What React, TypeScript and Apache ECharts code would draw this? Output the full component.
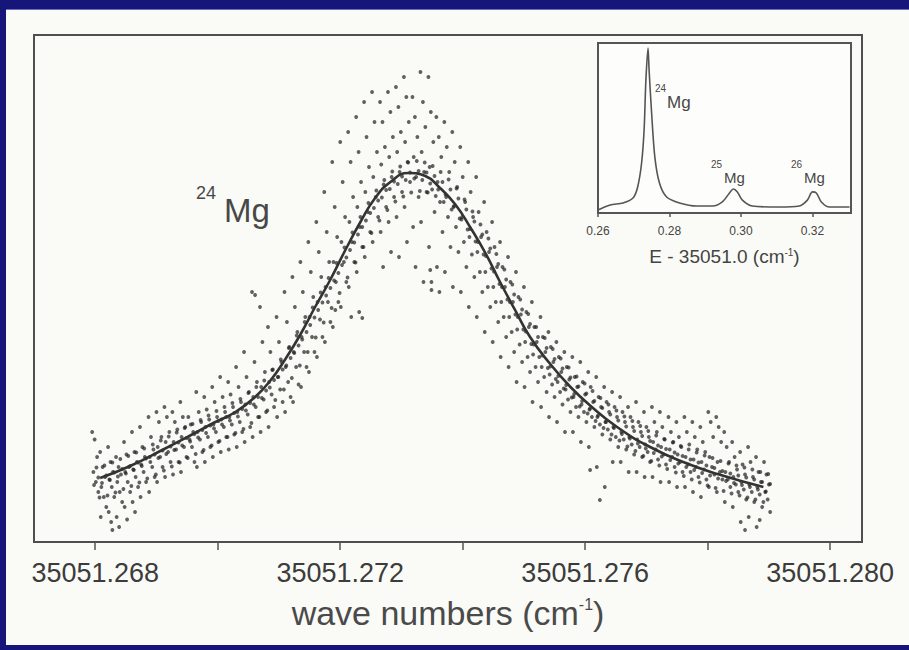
import React, { useEffect, useRef } from "react";
import * as echarts from "echarts";

// x values: wave number minus 35051 cm^-1, in units of 1e-3 cm^-1
const mainTickValues = [268, 270, 272, 274, 276, 278, 280];
const mainLabelValues = [268, 272, 276, 280];

// fitted line profile (arbitrary intensity units)
const fitX = [268.08, 268.57, 269.11, 269.55, 269.93, 270.29, 270.61, 270.86, 271.1, 271.35, 271.59, 271.84, 272.08, 272.33, 272.57, 272.82, 273.11, 273.39, 273.63, 273.88, 274.12, 274.37, 274.61, 274.86, 275.1, 275.43, 275.76, 276.08, 276.52, 277.06, 277.6, 278.16, 278.91];
const fitY = [12.8, 15.2, 18.5, 21.3, 23.8, 26, 29, 32.3, 36.5, 41.5, 47, 52.5, 58.3, 64, 68.8, 72, 73.8, 73.2, 70.8, 67.5, 63, 57.8, 52, 46.3, 41, 35.6, 31, 27.3, 23, 19, 16, 13.6, 11];

// measured points [x, intensity]: the wide cloud
const dots: [number, number][] = [
  [267.95,22],[267.99,20.5],[268.03,17],[267.97,14],[268.01,12],[268.05,10],
  [268.08,18],[268.12,15],[268.16,13],[268.10,11],[268.14,9],[268.18,7],[268.09,5],
  [268.21,19],[268.25,16],[268.29,14],[268.23,12.5],[268.27,11],[268.31,9],[268.22,6],[268.26,4],
  [268.34,17],[268.38,15],[268.42,13.5],[268.36,12],[268.40,10],[268.44,8],[268.35,5],[268.39,3],
  [268.47,20],[268.51,17.5],[268.55,15],[268.49,14],[268.53,12],[268.57,10],[268.48,7],[268.52,4.5],
  [268.60,22],[268.64,18],[268.68,16],[268.62,14.5],[268.66,13],[268.70,11],[268.61,8],[268.65,6],
  [268.73,23],[268.77,19],[268.81,17],[268.75,15.5],[268.79,14],[268.83,12],[268.74,9],
  [268.87,25],[268.91,21],[268.95,18.5],[268.89,17],[268.93,15],[268.97,13],[268.88,10],
  [269.00,26],[269.04,24],[269.08,21],[269.02,19],[269.06,17],[269.10,15],[269.01,12],
  [269.13,27],[269.17,25],[269.21,22],[269.15,20],[269.19,18],[269.23,16],[269.14,13],
  [269.26,26],[269.30,24],[269.34,22.5],[269.28,20],[269.32,18.5],[269.36,16],[269.27,13.5],
  [269.39,28],[269.43,25],[269.47,23],[269.41,21],[269.45,19],[269.49,17],[269.40,14],
  [269.52,25],[269.56,23.5],[269.60,22],[269.54,20.5],[269.58,19],[269.62,16],
  [269.65,30],[269.69,26],[269.73,24],[269.67,22],[269.71,20.5],[269.75,18],[269.66,15],
  [269.78,29],[269.82,26.5],[269.86,24.5],[269.80,23],[269.84,21],[269.88,19],[269.79,16],
  [269.91,31],[269.95,28],[269.99,25],[269.93,23.5],[269.97,22],[270.01,20],[269.92,17],
  [270.04,33],[270.08,29],[270.12,26],[270.06,24.5],[270.10,23],[270.14,21],[270.05,18],
  [270.17,32],[270.21,29.5],[270.25,27],[270.19,25],[270.23,23.5],[270.27,21.5],[270.18,18.5],
  [270.30,35],[270.34,31],[270.38,28],[270.32,26],[270.36,24],[270.40,22],[270.31,19],
  [270.43,38],[270.47,33],[270.51,30],[270.45,27.5],[270.49,25.5],[270.53,23],[270.44,20],
  [270.56,50],[270.60,36],[270.64,32],[270.58,29],[270.62,27],[270.66,25],[270.57,21],
  [270.69,47],[270.73,40],[270.77,34],[270.71,31],[270.75,28.5],[270.79,26],[270.70,22],
  [270.82,43],[270.86,38],[270.90,34.5],[270.84,32],[270.88,29.5],[270.92,27],[270.83,23],
  [270.96,45],[271.00,40],[271.04,36],[270.98,33],[271.02,30.5],[271.06,28],[270.97,25],
  [271.09,50],[271.13,44],[271.17,39],[271.11,35],[271.15,32],[271.19,29],[271.10,26],
  [271.22,53],[271.26,47],[271.30,42],[271.24,38],[271.28,35],[271.32,31.5],[271.23,28],
  [271.35,56],[271.39,50],[271.43,45],[271.37,41],[271.41,38],[271.45,35],[271.36,31],
  [271.48,60],[271.52,54],[271.56,49],[271.50,45],[271.54,41],[271.58,38],[271.49,34],
  [271.61,64],[271.65,58],[271.69,53],[271.63,48],[271.67,44.5],[271.71,41],[271.62,37],
  [271.74,70],[271.78,62],[271.82,56],[271.76,51],[271.80,48],[271.84,44],[271.75,40],
  [271.87,76],[271.91,67],[271.95,61],[271.89,56],[271.93,52],[271.97,48],[271.88,43],
  [272.00,80],[272.04,72],[272.08,65],[272.02,60],[272.06,56],[272.10,52],[272.01,47],
  [272.13,82],[272.17,76],[272.21,69],[272.15,64],[272.19,60],[272.23,56],[272.14,51],[272.18,45],
  [272.26,85],[272.30,78],[272.34,72],[272.28,67],[272.32,63],[272.36,59],[272.27,54],[272.31,46],
  [272.39,88],[272.43,81],[272.47,75],[272.41,70],[272.45,66],[272.49,62],[272.40,57],
  [272.52,90],[272.56,84],[272.60,78],[272.54,73],[272.58,69],[272.62,65],[272.53,60],
  [272.65,88],[272.69,84],[272.73,79],[272.67,75.5],[272.71,71.5],[272.75,67],[272.66,62],[272.70,55],
  [272.78,90],[272.82,86],[272.86,81],[272.80,77],[272.84,73],[272.88,69],[272.79,64],[272.83,58],
  [272.91,91],[272.95,87],[272.99,82],[272.93,78],[272.97,74],[273.01,70],[272.92,65],[272.96,57],
  [273.04,93],[273.08,89],[273.12,84],[273.06,80],[273.10,76],[273.14,72],[273.05,67],[273.09,60],
  [273.18,89],[273.22,85],[273.26,81],[273.20,77],[273.24,73],[273.28,69],[273.19,63],[273.23,55],
  [273.31,94],[273.35,88],[273.39,83],[273.33,78],[273.37,74],[273.41,70],[273.32,64],[273.36,52],
  [273.44,93],[273.48,86],[273.52,80],[273.46,75],[273.50,70.5],[273.54,66],[273.45,59],[273.49,52],
  [273.57,85],[273.61,81],[273.65,77],[273.59,72],[273.63,68],[273.67,62],[273.58,55],[273.62,50],
  [273.70,84],[273.74,79],[273.78,74],[273.72,69.5],[273.76,65],[273.80,59],[273.71,54],
  [273.83,82],[273.87,76],[273.91,71],[273.85,67],[273.89,63],[273.93,58],[273.84,51],
  [273.96,79],[274.00,73],[274.04,68],[273.98,64.5],[274.02,60],[274.06,55],[273.97,50],
  [274.09,76],[274.13,70],[274.17,65],[274.11,61],[274.15,57.5],[274.19,53],[274.10,47],
  [274.22,73],[274.26,66],[274.30,61],[274.24,58],[274.28,54],[274.32,50],[274.23,45],
  [274.35,68],[274.39,62],[274.43,58],[274.37,54],[274.41,51],[274.45,47],[274.36,42],
  [274.48,64],[274.52,59],[274.56,55],[274.50,51],[274.54,48],[274.58,44],[274.49,40],
  [274.61,60],[274.65,55],[274.69,51],[274.63,48],[274.67,45],[274.71,41],[274.62,37],
  [274.74,57],[274.78,52],[274.82,48],[274.76,45],[274.80,42],[274.84,38],[274.75,35],
  [274.87,54],[274.91,49],[274.95,45.5],[274.89,42.5],[274.93,39.5],[274.97,36],[274.88,32],
  [275.00,51],[275.04,46],[275.08,43],[275.02,40],[275.06,37],[275.10,34],[275.01,31],
  [275.13,48],[275.17,43],[275.21,40],[275.15,37.5],[275.19,35],[275.23,32],[275.14,28],
  [275.27,45],[275.31,41],[275.35,38],[275.29,35],[275.33,33],[275.37,30],[275.28,27],
  [275.40,42],[275.44,39],[275.48,36],[275.42,33.5],[275.46,31.5],[275.50,29],[275.41,25],
  [275.53,40],[275.57,37],[275.61,34],[275.55,32],[275.59,30],[275.63,27.5],[275.54,24],
  [275.66,38],[275.70,35],[275.74,32.5],[275.68,30.5],[275.72,28.5],[275.76,26],[275.67,22],
  [275.79,37],[275.83,33],[275.87,31],[275.81,29],[275.85,27],[275.89,25],[275.80,22],
  [275.92,36],[275.96,32],[276.00,29.5],[275.94,27.5],[275.98,26],[276.02,24],[275.93,20],
  [276.05,34],[276.09,31],[276.13,28],[276.07,26.5],[276.11,25],[276.15,23],[276.06,19],
  [276.18,33],[276.22,29],[276.26,27],[276.20,25],[276.24,23.5],[276.28,21.5],[276.19,15],
  [276.31,31],[276.35,28],[276.39,26],[276.33,24],[276.37,22.5],[276.41,20.5],[276.32,11],
  [276.44,30],[276.48,27],[276.52,25],[276.46,23],[276.50,21],[276.54,19],[276.45,16],
  [276.57,29],[276.61,26],[276.65,24],[276.59,22],[276.63,20.5],[276.67,18.5],[276.58,16],
  [276.70,27],[276.74,25],[276.78,23],[276.72,21],[276.76,19.5],[276.80,17.5],[276.71,14],
  [276.83,28],[276.87,24],[276.91,22],[276.85,20.5],[276.89,19],[276.93,17],[276.84,14],
  [276.96,26],[277.00,23],[277.04,21],[276.98,19.5],[277.02,18],[277.06,16],[276.97,13],
  [277.09,27],[277.13,24],[277.17,22],[277.11,20],[277.15,18.5],[277.19,16.5],[277.10,13],
  [277.22,26],[277.26,23],[277.30,20.5],[277.24,19],[277.28,17.5],[277.32,15.5],[277.23,12],
  [277.36,25],[277.40,22],[277.44,20],[277.38,18.5],[277.42,17],[277.46,15],[277.37,12],
  [277.49,24],[277.53,21],[277.57,19],[277.51,17.5],[277.55,16],[277.59,14],[277.50,11],
  [277.62,25],[277.66,22],[277.70,19.5],[277.64,17],[277.68,15.5],[277.72,14],[277.63,11],
  [277.75,24],[277.79,21],[277.83,18.5],[277.77,16.5],[277.81,15],[277.85,13],[277.76,10],
  [277.88,23],[277.92,20],[277.96,18],[277.90,16],[277.94,14.5],[277.98,12.5],[277.89,9],
  [278.01,26],[278.05,24],[278.09,21],[278.03,17],[278.07,15],[278.11,13.5],[278.02,11],
  [278.14,25],[278.18,23],[278.22,20],[278.16,16],[278.20,14],[278.24,12.5],[278.15,10],
  [278.27,22],[278.31,19],[278.35,16],[278.29,14],[278.33,12.5],[278.37,11],[278.28,8],
  [278.40,20],[278.44,17],[278.48,14.5],[278.42,13],[278.46,11.5],[278.50,10],[278.41,7],
  [278.53,18],[278.57,15.5],[278.61,13.5],[278.55,12],[278.59,10.5],[278.63,8.5],[278.54,4],
  [278.66,19],[278.70,16],[278.74,13],[278.68,11.5],[278.72,10],[278.76,8],[278.67,5],
  [278.79,17],[278.83,14],[278.87,12],[278.81,11],[278.85,9.5],[278.89,7],[278.80,3],
  [278.92,16],[278.96,13.5],[279.00,11.5],[278.94,10],[278.98,8.5],[279.02,6],
];

// measured points [x, intensity]: the dense band along the profile, plus stray points
const bandDots: [number, number][] = [
  [268.02,14.9],[267.98,11.4],[268.05,12.9],[268.07,8.9],
  [268.15,15.3],[268.11,11.8],[268.18,13.3],[268.20,9.3],
  [268.28,15.9],[268.24,12.4],[268.31,13.9],[268.33,9.9],
  [268.41,16.6],[268.37,13.1],[268.44,14.6],[268.46,10.6],
  [268.54,17.2],[268.50,13.7],[268.57,15.2],[268.59,11.2],
  [268.67,17.9],[268.63,14.4],[268.70,15.9],[268.72,11.9],
  [268.80,18.7],[268.76,15.2],[268.83,16.7],[268.85,12.7],
  [268.94,19.5],[268.90,16],[268.97,17.5],[268.99,13.5],
  [269.07,20.3],[269.03,16.8],[269.10,18.3],[269.12,14.3],
  [269.20,21.1],[269.16,17.6],[269.23,19.1],[269.25,15.1],
  [269.33,21.9],[269.29,18.4],[269.36,19.9],[269.38,15.9],
  [269.46,22.8],[269.42,19.3],[269.49,20.8],[269.51,16.8],
  [269.59,23.6],[269.55,20.1],[269.62,21.6],[269.64,17.6],
  [269.72,24.4],[269.68,20.9],[269.75,22.4],[269.77,18.4],
  [269.85,25.3],[269.81,21.8],[269.88,23.3],[269.90,19.3],
  [269.98,26.2],[269.94,22.7],[270.01,24.2],[270.03,20.2],
  [270.11,27],[270.07,23.5],[270.14,25],[270.16,21],
  [270.24,27.8],[270.20,24.3],[270.27,25.8],[270.29,21.8],
  [270.37,28.6],[270.33,25.1],[270.40,26.6],[270.42,22.6],
  [270.50,29.8],[270.46,26.3],[270.53,27.8],[270.55,23.8],
  [270.63,31],[270.59,27.5],[270.66,29],[270.68,25],
  [270.76,32.3],[270.72,28.8],[270.79,30.3],[270.81,26.3],
  [270.89,34.4],[270.85,30.9],[270.92,32.4],[270.94,28.4],
  [271.03,36.5],[270.99,33],[271.06,34.5],[271.08,30.5],
  [271.16,38.8],[271.12,35.3],[271.19,36.8],[271.21,32.8],
  [271.29,41.3],[271.25,37.8],[271.32,39.3],[271.34,35.3],
  [271.42,44],[271.38,40.5],[271.45,42],[271.47,38],
  [271.55,46.9],[271.51,43.4],[271.58,44.9],[271.60,40.9],
  [271.68,49.9],[271.64,46.4],[271.71,47.9],[271.73,43.9],
  [271.81,52.8],[271.77,49.3],[271.84,50.8],[271.86,46.8],
  [271.94,55.8],[271.90,52.3],[271.97,53.8],[271.99,49.8],
  [272.07,58.9],[272.03,55.4],[272.10,56.9],[272.12,52.9],
  [272.20,61.9],[272.16,58.4],[272.23,59.9],[272.25,55.9],
  [272.33,65],[272.29,61.5],[272.36,63],[272.38,59],
  [272.46,67.8],[272.42,64.3],[272.49,65.8],[272.51,61.8],
  [272.59,70.3],[272.55,66.8],[272.62,68.3],[272.64,64.3],
  [272.72,72.4],[272.68,68.9],[272.75,70.4],[272.77,66.4],
  [272.85,74.1],[272.81,70.6],[272.88,72.1],[272.90,68.1],
  [272.98,75.1],[272.94,71.6],[273.01,73.1],[273.03,69.1],
  [273.11,75.9],[273.07,72.4],[273.14,73.9],[273.16,69.9],
  [273.25,76.2],[273.21,72.7],[273.28,74.2],[273.30,70.2],
  [273.38,75.9],[273.34,72.4],[273.41,73.9],[273.43,69.9],
  [273.51,75.2],[273.47,71.7],[273.54,73.2],[273.56,69.2],
  [273.64,74],[273.60,70.5],[273.67,72],[273.69,68],
  [273.77,72.5],[273.73,69],[273.80,70.5],[273.82,66.5],
  [273.90,70.7],[273.86,67.2],[273.93,68.7],[273.95,64.7],
  [274.03,68.5],[273.99,65],[274.06,66.5],[274.08,62.5],
  [274.16,66.1],[274.12,62.6],[274.19,64.1],[274.21,60.1],
  [274.29,63.5],[274.25,60],[274.32,61.5],[274.34,57.5],
  [274.42,60.7],[274.38,57.2],[274.45,58.7],[274.47,54.7],
  [274.55,57.6],[274.51,54.1],[274.58,55.6],[274.60,51.6],
  [274.68,54.5],[274.64,51],[274.71,52.5],[274.73,48.5],
  [274.81,51.5],[274.77,48],[274.84,49.5],[274.86,45.5],
  [274.94,48.5],[274.90,45],[274.97,46.5],[274.99,42.5],
  [275.07,45.6],[275.03,42.1],[275.10,43.6],[275.12,39.6],
  [275.20,43],[275.16,39.5],[275.23,41],[275.25,37],
  [275.34,40.8],[275.30,37.3],[275.37,38.8],[275.39,34.8],
  [275.47,38.6],[275.43,35.1],[275.50,36.6],[275.52,32.6],
  [275.60,36.7],[275.56,33.2],[275.63,34.7],[275.65,30.7],
  [275.73,34.9],[275.69,31.4],[275.76,32.9],[275.78,28.9],
  [275.86,33.1],[275.82,29.6],[275.89,31.1],[275.91,27.1],
  [275.99,31.7],[275.95,28.2],[276.02,29.7],[276.04,25.7],
  [276.12,30.2],[276.08,26.7],[276.15,28.2],[276.17,24.2],
  [276.25,28.8],[276.21,25.3],[276.28,26.8],[276.30,22.8],
  [276.38,27.5],[276.34,24],[276.41,25.5],[276.43,21.5],
  [276.51,26.3],[276.47,22.8],[276.54,24.3],[276.56,20.3],
  [276.64,25.1],[276.60,21.6],[276.67,23.1],[276.69,19.1],
  [276.77,24.2],[276.73,20.7],[276.80,22.2],[276.82,18.2],
  [276.90,23.2],[276.86,19.7],[276.93,21.2],[276.95,17.2],
  [277.03,22.2],[276.99,18.7],[277.06,20.2],[277.08,16.2],
  [277.16,21.3],[277.12,17.8],[277.19,19.3],[277.21,15.3],
  [277.29,20.6],[277.25,17.1],[277.32,18.6],[277.34,14.6],
  [277.43,19.9],[277.39,16.4],[277.46,17.9],[277.48,13.9],
  [277.56,19.2],[277.52,15.7],[277.59,17.2],[277.61,13.2],
  [277.69,18.5],[277.65,15],[277.72,16.5],[277.74,12.5],
  [277.82,17.9],[277.78,14.4],[277.85,15.9],[277.87,11.9],
  [277.95,17.3],[277.91,13.8],[277.98,15.3],[278.00,11.3],
  [278.08,16.8],[278.04,13.3],[278.11,14.8],[278.13,10.8],
  [278.21,16.2],[278.17,12.7],[278.24,14.2],[278.26,10.2],
  [278.34,15.7],[278.30,12.2],[278.37,13.7],[278.39,9.7],
  [278.47,15.3],[278.43,11.8],[278.50,13.3],[278.52,9.3],
  [278.60,14.9],[278.56,11.4],[278.63,12.9],[278.65,8.9],
  [278.73,14.5],[278.69,11],[278.76,12.5],[278.78,8.5],
  [278.86,14],[278.82,10.5],[278.89,12],[278.91,8],
  [278.99,13.6],[278.95,10.1],[279.02,11.6],
  [270.61,49.4],[273.47,54.4],[273.49,50.4],[271.92,46.4],[272.36,44.8],[276.24,8.4],[276.08,14.4],[278.61,2.4],[278.85,4.4],[268.28,2.4],
];

// inset: isotope spectrum, E - 35051.0 (cm^-1)
const insetX = [0.26, 0.2634, 0.267, 0.2698, 0.2711, 0.2722, 0.2729, 0.2734, 0.274, 0.2743, 0.275, 0.2759, 0.2772, 0.2792, 0.2828, 0.2876, 0.2921, 0.2948, 0.2968, 0.2979, 0.299, 0.3004, 0.3032, 0.3107, 0.3163, 0.3186, 0.32, 0.3211, 0.3225, 0.3248, 0.3304];
const insetY = [1.8, 4.7, 5.9, 8.8, 15.3, 29.4, 48.8, 78, 97, 84, 59, 33, 17.6, 9.4, 5.9, 4.1, 4.1, 6.5, 11.8, 14.1, 12.4, 7.6, 4.1, 3.5, 4.1, 7.6, 12.4, 11.8, 6.5, 3.5, 3.5];
const insetTickValues = [0.26, 0.28, 0.3, 0.32];

const FONT = "'Liberation Sans', Arial, Helvetica, sans-serif";

export default function App() {
  const ref = useRef<HTMLDivElement>(null);
  useEffect(() => {
    const chart = echarts.init(ref.current!, null, { renderer: "svg" });
    const txt = (text: string, x: number, y: number, size: number) => ({
      type: "text",
      x,
      y,
      z: 10,
      style: { text, fontSize: size, fontFamily: FONT, fill: "#484848", align: "left", verticalAlign: "middle" },
    });
    const dotStyle = { color: "rgba(32,32,32,0.88)" };
    chart.setOption({
      animation: false,
      textStyle: { fontFamily: FONT },
      grid: [
        { left: 34, top: 35, width: 828, height: 507, show: true, borderColor: "#4f4f4f", borderWidth: 2, backgroundColor: "transparent" },
        { left: 598, top: 43, width: 253, height: 170, show: true, borderColor: "#555", borderWidth: 2, backgroundColor: "#fdfdfb" },
      ],
      xAxis: [
        {
          type: "value",
          gridIndex: 0,
          min: 267,
          max: 280.52,
          axisLine: { show: false },
          splitLine: { show: false },
          axisTick: { show: true, inside: false, length: 8, lineStyle: { color: "#555", width: 1.5 }, customValues: mainTickValues },
          axisLabel: {
            customValues: mainLabelValues,
            formatter: (v: number) => (35051 + v / 1000).toFixed(3),
            fontSize: 27,
            color: "#3c3c3c",
            margin: 17,
            fontFamily: FONT,
          },
          name: "{t|wave numbers (cm}{s|-1}{t|)}",
          nameLocation: "middle",
          nameGap: 54,
          nameTextStyle: {
            rich: {
              t: { fontSize: 34, color: "#4a4a4a", fontFamily: FONT },
              s: { fontSize: 16, color: "#4a4a4a", fontFamily: FONT, verticalAlign: "top" },
            },
          },
        },
        {
          type: "value",
          gridIndex: 1,
          min: 0.26,
          max: 0.3308,
          axisLine: { show: false },
          splitLine: { show: false },
          axisTick: { show: true, inside: false, length: 4, lineStyle: { color: "#555", width: 1.5 }, customValues: insetTickValues },
          axisLabel: {
            customValues: insetTickValues,
            formatter: (v: number) => v.toFixed(2),
            fontSize: 12,
            color: "#444",
            margin: 12,
            fontFamily: FONT,
          },
          name: "{t|E - 35051.0 (cm}{s|-1}{t|)}",
          nameLocation: "middle",
          nameGap: 34,
          nameTextStyle: {
            rich: {
              t: { fontSize: 19, color: "#444", fontFamily: FONT },
              s: { fontSize: 10, color: "#444", fontFamily: FONT, verticalAlign: "top" },
            },
          },
        },
      ],
      yAxis: [
        { type: "value", gridIndex: 0, min: 0, max: 101.4, show: false },
        { type: "value", gridIndex: 1, min: 0, max: 100, show: false },
      ],
      series: [
        { type: "scatter", xAxisIndex: 0, yAxisIndex: 0, data: dots, symbolSize: 3.8, itemStyle: dotStyle, z: 2 },
        { type: "scatter", xAxisIndex: 0, yAxisIndex: 0, data: bandDots, symbolSize: 3.8, itemStyle: dotStyle, z: 2 },
        {
          type: "line",
          xAxisIndex: 0,
          yAxisIndex: 0,
          data: fitX.map((x, i) => [x, fitY[i]]),
          smooth: true,
          showSymbol: false,
          lineStyle: { color: "#333", width: 2.6 },
          z: 3,
        },
        {
          type: "line",
          xAxisIndex: 1,
          yAxisIndex: 1,
          data: insetX.map((x, i) => [x, insetY[i]]),
          smooth: 0.3,
          showSymbol: false,
          lineStyle: { color: "#555", width: 1.6 },
          z: 3,
        },
      ],
      graphic: [
        txt("24", 196, 193, 18),
        txt("Mg", 224, 210, 33),
        txt("24", 655, 88, 10),
        txt("Mg", 667, 102, 17),
        txt("25", 711, 164, 10),
        txt("Mg", 724, 177, 15),
        txt("26", 791, 164, 10),
        txt("Mg", 804, 177, 15),
      ],
    });
    return () => chart.dispose();
  }, []);
  return (
    <div style={{ position: "fixed", left: 0, top: 0, width: 909, height: 650, background: "#16167a", overflow: "hidden" }}>
      <div style={{ position: "absolute", left: 6, top: 9, right: 0, bottom: 5, background: "#fafbf6", borderTop: "1px solid #6c6cc4" }} />
      <div ref={ref} style={{ position: "absolute", left: 0, top: 0, width: 909, height: 650 }} />
    </div>
  );
}
